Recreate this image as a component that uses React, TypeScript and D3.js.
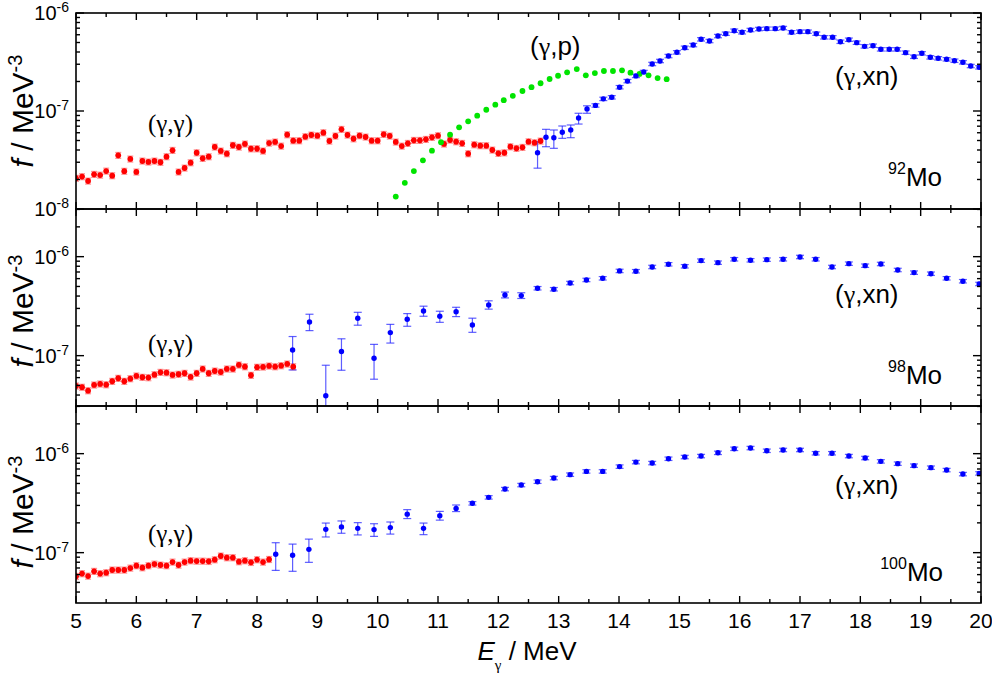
import React from "react";
import * as d3 from "d3";

// ---------------- data ----------------
const xTickValues = [5, 6, 7, 8, 9, 10, 11, 12, 13, 14, 15, 16, 17, 18, 19, 20];
const xDomain: [number, number] = [5, 20];

// (γ,γ) data: energies on a 0.1 MeV grid starting at 5.0 MeV
const RED_E0 = 5.0;
const RED_STEP = 0.1;
const RED_REL_ERR = 0.07;
const BLUE_REL_ERR = 0.04;

// 92Mo
const mo92Red = [2.06, 2.14, 1.93, 2.26, 2.22, 2.44, 2.19, 3.53, 2.43, 3.24, 2.39, 3.09, 3.02, 3.09, 3.0, 3.42, 3.97, 2.39, 2.62, 2.97, 3.75, 3.29, 3.42, 4.29, 3.91, 3.67, 4.47, 4.29, 4.61, 4.12, 4.12, 3.91, 4.71, 4.83, 4.39, 5.73, 4.98, 4.98, 5.47, 5.69, 5.6, 6.01, 4.94, 5.56, 6.5, 5.69, 5.21, 5.6, 5.43, 4.98, 4.98, 5.78, 5.56, 4.83, 4.39, 4.68, 5.02, 5.02, 5.14, 5.39, 5.6, 4.61, 5.06, 4.86, 4.68, 3.67, 4.53, 4.43, 4.43, 4.0, 3.7, 3.75, 4.32, 4.16, 4.26, 4.86, 4.75, 4.94]; // ×1e-8
const mo92BlueE = [12.65, 12.79, 12.92, 13.06, 13.2, 13.33, 13.47, 13.61, 13.74, 13.88, 14.01, 14.14, 14.28, 14.41, 14.55, 14.68, 14.82, 14.96, 15.09, 15.23, 15.36, 15.5, 15.64, 15.77, 15.91, 16.04, 16.18, 16.32, 16.45, 16.59, 16.72, 16.86, 17.0, 17.13, 17.27, 17.4, 17.54, 17.67, 17.81, 17.94, 18.07, 18.21, 18.34, 18.48, 18.61, 18.75, 18.89, 19.02, 19.16, 19.29, 19.43, 19.56, 19.7, 19.83, 19.97];
const mo92Blue = [0.375, 0.539, 0.534, 0.607, 0.64, 0.849, 1.05, 1.14, 1.33, 1.38, 1.75, 2.02, 2.28, 2.5, 3.02, 3.24, 3.64, 3.97, 4.42, 4.71, 5.39, 5.18, 5.82, 6.15, 6.6, 6.36, 6.71, 6.87, 6.92, 6.92, 7.03, 6.36, 6.45, 6.45, 6.15, 5.65, 5.65, 5.09, 5.34, 4.98, 4.57, 4.64, 4.26, 4.26, 4.26, 3.94, 3.58, 3.88, 3.53, 3.45, 3.37, 3.26, 3.14, 2.88, 2.79]; // ×1e-7
const mo92BlueErr = [[0.261, 0.487], [0.432, 0.65], [0.416, 0.64], [0.526, 0.703], [0.534, 0.72], [0.736, 0.948], [0.948, 1.13]]; // ×1e-7
const mo92GreenE = [10.15, 10.3, 10.45, 10.6, 10.75, 10.9, 11.05, 11.2, 11.35, 11.5, 11.65, 11.8, 11.95, 12.09, 12.24, 12.4, 12.55, 12.7, 12.85, 12.99, 13.14, 13.3, 13.45, 13.6, 13.75, 13.9, 14.05, 14.19, 14.34, 14.49, 14.64, 14.79];
const mo92Green = [0.0931, 0.134, 0.185, 0.244, 0.314, 0.394, 0.48, 0.573, 0.682, 0.785, 0.895, 1.03, 1.16, 1.29, 1.43, 1.6, 1.75, 1.92, 2.12, 2.29, 2.48, 2.68, 2.31, 2.44, 2.56, 2.56, 2.6, 2.46, 2.39, 2.31, 2.17, 2.11]; // ×1e-7

// 98Mo
const mo98Red = [4.94, 4.8, 4.43, 5.06, 5.18, 5.09, 5.51, 5.91, 5.51, 5.86, 6.24, 6.05, 6.0, 6.43, 6.79, 6.73, 6.38, 6.49, 6.64, 6.09, 6.64, 7.34, 6.64, 7.0, 6.84, 7.34, 7.34, 8.05, 7.74, 6.34, 7.64, 7.69, 7.87, 7.74, 7.92, 8.24, 7.74]; // ×1e-8
const mo98BlueE = [8.59, 8.87, 9.14, 9.4, 9.67, 9.94, 10.21, 10.49, 10.76, 11.03, 11.3, 11.57, 11.84, 12.11, 12.38, 12.65, 12.92, 13.19, 13.46, 13.73, 14.01, 14.28, 14.55, 14.82, 15.09, 15.36, 15.64, 15.91, 16.18, 16.45, 16.72, 17.0, 17.26, 17.53, 17.81, 18.08, 18.34, 18.62, 18.89, 19.17, 19.43, 19.7, 19.97];
const mo98Blue = [1.14, 2.19, 0.394, 1.1, 2.39, 0.942, 1.71, 2.33, 2.83, 2.5, 2.78, 2.04, 3.25, 4.1, 4.04, 4.8, 4.69, 5.42, 5.82, 6.05, 7.18, 7.13, 7.87, 8.38, 8.0, 9.12, 8.7, 9.42, 9.2, 9.33, 9.42, 9.93, 9.42, 7.87, 8.5, 8.11, 8.44, 7.34, 6.9, 6.73, 6.05, 5.65, 5.3]; // ×1e-7
const mo98BlueErr = [[0.717, 1.56], [1.79, 2.62], [0.1, 0.8], [0.712, 1.48], [2.03, 2.74], [0.578, 1.3], [1.34, 2.07], [1.98, 2.66], [2.5, 3.16], [2.17, 2.81], [2.48, 3.08], [1.72, 2.39], [2.95, 3.58], [3.83, 4.39], [3.78, 4.32]];

// 100Mo
const mo100Red = [5.76, 6.14, 5.8, 6.48, 6.14, 6.28, 6.68, 6.68, 6.68, 6.99, 7.39, 7.05, 7.39, 7.67, 7.5, 7.39, 8.04, 7.5, 8.04, 8.3, 8.22, 8.22, 8.17, 8.49, 9.25, 8.9, 8.9, 8.11, 8.3, 7.98, 8.49, 8.04, 8.55]; // ×1e-8
const mo100BlueE = [8.31, 8.59, 8.86, 9.14, 9.4, 9.67, 9.94, 10.21, 10.49, 10.76, 11.03, 11.3, 11.57, 11.84, 12.11, 12.38, 12.65, 12.92, 13.19, 13.46, 13.73, 14.01, 14.28, 14.55, 14.82, 15.09, 15.36, 15.64, 15.91, 16.18, 16.45, 16.72, 17.0, 17.26, 17.53, 17.81, 18.08, 18.34, 18.62, 18.89, 19.17, 19.43, 19.7, 19.97];
const mo100Blue = [0.962, 0.94, 1.08, 1.72, 1.82, 1.76, 1.71, 1.79, 2.45, 1.76, 2.36, 2.8, 3.15, 3.62, 4.39, 4.82, 5.21, 5.67, 6.14, 6.62, 6.62, 7.4, 8.22, 8.04, 8.89, 9.25, 9.46, 10.2, 11.2, 11.4, 10.7, 10.9, 10.9, 10.1, 10.1, 9.46, 9.04, 8.36, 7.93, 7.57, 7.22, 6.83, 6.22, 6.32]; // ×1e-7
const mo100BlueErr = [[0.662, 1.26], [0.648, 1.22], [0.798, 1.37], [1.44, 1.99], [1.57, 2.09], [1.51, 2.01], [1.46, 1.96], [1.54, 2.04], [2.21, 2.72], [1.52, 1.99], [2.13, 2.61], [2.6, 3.03]];

// ---------------- layout ----------------
const X0 = 76;
const X1 = 981;
const FONT = "'Liberation Sans', Arial, Helvetica, sans-serif";
const SERIF = "'Liberation Serif', 'Times New Roman', serif";
const RED = "#ff0000";
const BLUE = "#0000ff";
const GREEN = "#00e400";

type Pt = { e: number; v: number; lo?: number; hi?: number };

const redPts = (vals: number[]): Pt[] =>
  vals.map((v, i) => ({ e: RED_E0 + i * RED_STEP, v: v * 1e-8, lo: v * 1e-8 * (1 - RED_REL_ERR), hi: v * 1e-8 * (1 + RED_REL_ERR) }));
const bluePts = (es: number[], vals: number[], errs: number[][]): Pt[] =>
  vals.map((v, i) => ({
    e: es[i],
    v: v * 1e-7,
    lo: errs[i] ? errs[i][0] * 1e-7 : v * 1e-7 * (1 - BLUE_REL_ERR),
    hi: errs[i] ? errs[i][1] * 1e-7 : v * 1e-7 * (1 + BLUE_REL_ERR),
  }));

const panels = [
  {
    id: "p92", top: 13, bottom: 209, domain: [1e-8, 1e-6] as [number, number],
    red: redPts(mo92Red), blue: bluePts(mo92BlueE, mo92Blue, mo92BlueErr),
    green: mo92GreenE.map((e, i) => ({ e, v: mo92Green[i] * 1e-7 })),
    mass: "92", titleY: 111,
    gg: [148, 132], xn: [835, 85], gp: [530, 55] as number[] | null, iso: [942, 186],
  },
  {
    id: "p98", top: 209, bottom: 406, domain: [3.1e-8, 3.03e-6] as [number, number],
    red: redPts(mo98Red), blue: bluePts(mo98BlueE, mo98Blue, mo98BlueErr), green: [] as Pt[],
    mass: "98", titleY: 311,
    gg: [148, 352], xn: [835, 303], gp: null, iso: [942, 384],
  },
  {
    id: "p100", top: 406, bottom: 603, domain: [3.1e-8, 3.03e-6] as [number, number],
    red: redPts(mo100Red), blue: bluePts(mo100BlueE, mo100Blue, mo100BlueErr), green: [] as Pt[],
    mass: "100", titleY: 512,
    gg: [148, 542], xn: [835, 494], gp: null, iso: [943, 581],
  },
];

const x = d3.scaleLinear().domain(xDomain).range([X0, X1]);
const xMinor = d3.range(5, 20.01, 0.5);

function logTicks(domain: [number, number]) {
  const out: { v: number; major: boolean }[] = [];
  const k0 = Math.floor(Math.log10(domain[0]));
  const k1 = Math.ceil(Math.log10(domain[1]));
  for (let k = k0; k <= k1; k++) {
    for (let m = 1; m <= 9; m++) {
      const v = m * Math.pow(10, k);
      if (v >= domain[0] * 0.999 && v <= domain[1] * 1.001) out.push({ v, major: m === 1 });
    }
  }
  return out;
}

function ErrBars({ pts, y, color, cap }: { pts: Pt[]; y: d3.ScaleLogarithmic<number, number>; color: string; cap: number }) {
  return (
    <g stroke={color} strokeWidth={1.2} fill="none">
      {pts.map((p, i) => {
        const cx = x(p.e);
        const y1 = y(p.lo as number);
        const y2 = y(p.hi as number);
        return (
          <g key={i}>
            <line x1={cx} x2={cx} y1={y1} y2={y2} />
            <line x1={cx - cap} x2={cx + cap} y1={y1} y2={y1} />
            <line x1={cx - cap} x2={cx + cap} y1={y2} y2={y2} />
          </g>
        );
      })}
    </g>
  );
}

function Panel({ p, showXLabels }: { p: (typeof panels)[number]; showXLabels: boolean }) {
  const y = d3.scaleLog().domain(p.domain).range([p.bottom, p.top]);
  const ticks = logTicks(p.domain);
  const clipId = "clip-" + p.id;
  return (
    <g>
      <defs>
        <clipPath id={clipId}>
          <rect x={X0} y={p.top} width={X1 - X0} height={p.bottom - p.top} />
        </clipPath>
      </defs>
      <g clipPath={`url(#${clipId})`}>
        <ErrBars pts={p.red} y={y} color="rgba(255,60,60,0.55)" cap={3} />
        <ErrBars pts={p.blue} y={y} color="rgba(40,40,255,0.75)" cap={4} />
        {p.red.map((d, i) => (
          <circle key={"r" + i} cx={x(d.e)} cy={y(d.v)} r={2.9} fill={RED} />
        ))}
        {p.green.map((d, i) => (
          <circle key={"g" + i} cx={x(d.e)} cy={y(d.v)} r={2.9} fill={GREEN} />
        ))}
        {p.blue.map((d, i) => (
          <circle key={"b" + i} cx={x(d.e)} cy={y(d.v)} r={2.7} fill={BLUE} />
        ))}
      </g>
      {/* frame */}
      <rect x={X0} y={p.top} width={X1 - X0} height={p.bottom - p.top} fill="none" stroke="#000" strokeWidth={1.6} />
      {/* x ticks */}
      <g stroke="#000" strokeWidth={1.4}>
        {xMinor.map((v, i) => {
          const major = Math.abs(v - Math.round(v)) < 1e-6;
          const len = major ? 7 : 4;
          return (
            <g key={i}>
              <line x1={x(v)} x2={x(v)} y1={p.bottom} y2={p.bottom - len} />
              <line x1={x(v)} x2={x(v)} y1={p.top} y2={p.top + len} />
            </g>
          );
        })}
        {ticks.map((t, i) => {
          const len = t.major ? 8 : 4;
          return (
            <g key={"y" + i}>
              <line x1={X0} x2={X0 + len} y1={y(t.v)} y2={y(t.v)} />
              <line x1={X1} x2={X1 - len} y1={y(t.v)} y2={y(t.v)} />
            </g>
          );
        })}
      </g>
      {/* y tick labels */}
      {ticks.filter((t) => t.major).map((t, i) => (
        <text key={"yl" + i} x={69} y={y(t.v) + 7} textAnchor="end" fontFamily={FONT} fontSize={20} fill="#000">
          10<tspan dy={-8} fontSize={14}>{String(Math.round(Math.log10(t.v)))}</tspan>
        </text>
      ))}
      {showXLabels &&
        xTickValues.map((v) => (
          <text key={"xl" + v} x={x(v)} y={628} textAnchor="middle" fontFamily={FONT} fontSize={21} fill="#000">
            {v}
          </text>
        ))}
      {/* y title */}
      <text transform={`translate(33,${p.titleY}) rotate(-90)`} textAnchor="middle" fontFamily={FONT} fontSize={30} fill="#000">
        <tspan fontStyle="italic">f</tspan> / MeV<tspan dy={-11} fontSize={20}>-3</tspan>
      </text>
      {/* annotations */}
      <text x={p.gg[0]} y={p.gg[1]} fontFamily={SERIF} fontSize={25} fill="#000">(γ,γ)</text>
      <text x={p.xn[0]} y={p.xn[1]} fontFamily={FONT} fontSize={26} fill="#000">
        (<tspan fontFamily={SERIF}>γ</tspan>,xn)
      </text>
      {p.gp && (
        <text x={p.gp[0]} y={p.gp[1]} fontFamily={FONT} fontSize={26} fill="#000">
          (<tspan fontFamily={SERIF}>γ</tspan>,p)
        </text>
      )}
      <text x={p.iso[0]} y={p.iso[1]} textAnchor="end" fontFamily={FONT} fontSize={26} fill="#000">
        <tspan dy={-12} fontSize={16}>{p.mass}</tspan>
        <tspan dy={12}>Mo</tspan>
      </text>
    </g>
  );
}

export default function App() {
  return (
    <svg width={992} height={675} style={{ display: "block", position: "absolute", left: 0, top: 0 }} fill="none">
      <rect x={0} y={0} width={992} height={675} fill="#fff" />
      {panels.map((p, i) => (
        <Panel key={p.id} p={p} showXLabels={i === panels.length - 1} />
      ))}
      <text x={527} y={660} textAnchor="middle" fontFamily={FONT} fontSize={26} fill="#000">
        <tspan fontStyle="italic">E</tspan>
        <tspan dy={10} fontSize={15} fontFamily={SERIF}>γ</tspan>
        <tspan dy={-10}> / MeV</tspan>
      </text>
    </svg>
  );
}
